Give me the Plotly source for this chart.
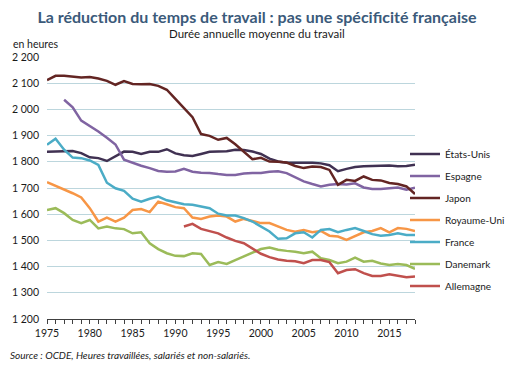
import plotly.graph_objects as go

years = list(range(1975, 2019))

etats_unis = [1838, 1840, 1840, 1841, 1833, 1817, 1814, 1803, 1822, 1839,
              1838, 1830, 1838, 1838, 1848, 1832, 1825, 1822, 1830, 1838,
              1839, 1840, 1846, 1845, 1839, 1830, 1812, 1801, 1796, 1797,
              1796, 1796, 1794, 1787, 1764, 1773, 1780, 1783, 1784, 1786,
              1786, 1783, 1784, 1789]
espagne_start = 1977
espagne = [2037, 2008, 1957, 1938, 1916, 1892, 1866, 1808,
           1795, 1785, 1776, 1765, 1762, 1763, 1773, 1762, 1758, 1757,
           1753, 1750, 1750, 1755, 1757, 1757, 1762, 1764, 1757, 1741,
           1725, 1715, 1706, 1712, 1715, 1713, 1718, 1702, 1696, 1696,
           1699, 1702, 1693, 1701]
japon = [2112, 2128, 2128, 2125, 2122, 2124, 2118, 2109, 2094, 2108,
         2097, 2096, 2097, 2090, 2075, 2040, 2005, 1970, 1906, 1899,
         1884, 1891, 1867, 1840, 1810, 1815, 1801, 1800, 1797, 1784,
         1776, 1782, 1780, 1769, 1712, 1731, 1727, 1744, 1731, 1729,
         1719, 1715, 1706, 1677]
royaume_uni = [1722, 1709, 1693, 1680, 1664, 1623, 1572, 1587, 1572, 1587,
               1616, 1620, 1608, 1648, 1638, 1627, 1623, 1587, 1582, 1591,
               1595, 1591, 1572, 1582, 1574, 1566, 1566, 1553, 1540, 1533,
               1540, 1531, 1536, 1518, 1515, 1502, 1518, 1531, 1536, 1547,
               1531, 1547, 1544, 1536]
france = [1865, 1888, 1846, 1816, 1814, 1805, 1788, 1720, 1699, 1689,
          1659, 1648, 1659, 1667, 1653, 1646, 1638, 1636, 1629, 1623,
          1602, 1595, 1595, 1585, 1572, 1553, 1534, 1506, 1508, 1527,
          1531, 1511, 1540, 1543, 1531, 1540, 1547, 1536, 1524, 1518,
          1521, 1527, 1521, 1521]
danemark = [1616, 1623, 1604, 1578, 1566, 1578, 1546, 1553, 1546, 1543,
            1527, 1531, 1489, 1467, 1451, 1441, 1440, 1451, 1448, 1406,
            1417, 1410, 1425, 1438, 1453, 1467, 1473, 1464, 1460, 1457,
            1451, 1457, 1432, 1425, 1413, 1419, 1434, 1419, 1422, 1412,
            1406, 1410, 1406, 1391]
allemagne_start = 1991
allemagne = [1553, 1563, 1544, 1536, 1527, 1511, 1498, 1489, 1470,
             1449, 1436, 1427, 1422, 1420,
             1413, 1425, 1425, 1417, 1375, 1387, 1390, 1375, 1364, 1364,
             1371, 1364, 1359, 1362]

series = [
    ("États-Unis", years, etats_unis, "#403152"),
    ("Espagne", list(range(espagne_start, 2019)), espagne, "#8064A2"),
    ("Japon", years, japon, "#632523"),
    ("Royaume-Uni", years, royaume_uni, "#F79646"),
    ("France", years, france, "#4BACC6"),
    ("Danemark", years, danemark, "#9BBB59"),
    ("Allemagne", list(range(allemagne_start, 2019)), allemagne, "#C0504D"),
]

y_ticks = [1200, 1300, 1400, 1500, 1600, 1700, 1800, 1900, 2000, 2100, 2200]
y_tick_text = ["1 200", "1 300", "1 400", "1 500", "1 600", "1 700",
               "1 800", "1 900", "2 000", "2 100", "2 200"]
x_ticks = [1975, 1980, 1985, 1990, 1995, 2000, 2005, 2010, 2015]

FONT = "Lato"
W, H = 514, 373
L, T = 47, 57
R, B = W - 415, H - 319
PW, PH = W - L - R, H - T - B


def px_x(px):
    return (px - L) / PW


def px_y(py):
    return (H - B - py) / PH


fig = go.Figure()
for i, (name, xs, ys, color) in enumerate(series):
    fig.add_trace(go.Scatter(
        x=xs, y=ys, name=name, mode="lines",
        line=dict(color=color, width=2.5),
        legendgroup=f"g{i}",
    ))

fig.update_layout(
    width=W, height=H,
    margin=dict(l=L, r=R, t=T, b=B, pad=0, autoexpand=False),
    paper_bgcolor="white", plot_bgcolor="white",
    font=dict(family=FONT, size=11, color="#1a1a1a"),
    title=dict(
        text="<b>La réduction du temps de travail : pas une spécificité française</b>",
        x=257 / W, xref="container", xanchor="center",
        y=1 - 17 / H, yref="container", yanchor="middle",
        font=dict(family=FONT, size=16, color="#3B5A7A"),
    ),
    showlegend=True,
    legend=dict(
        xref="container", yref="container",
        x=405 / W, xanchor="left", y=1 - 220 / H, yanchor="middle",
        font=dict(family=FONT, size=10, color="#1a1a1a"),
        tracegroupgap=3, bgcolor="rgba(0,0,0,0)",
    ),
    xaxis=dict(
        range=[1975, 2018], tickvals=x_ticks, ticktext=[str(v) for v in x_ticks],
        showgrid=False, zeroline=False,
        showline=True, linecolor="#404040", linewidth=1,
        ticks="outside", ticklen=4, tickcolor="#404040",
        minor=dict(dtick=1, tick0=1975, ticks="outside", ticklen=4, tickcolor="#404040"),
        tickfont=dict(size=10.5, color="#1a1a1a"),
    ),
    yaxis=dict(
        range=[1200, 2200], tickvals=y_ticks, ticktext=y_tick_text,
        showgrid=True, gridcolor="#BCD6DD", gridwidth=1,
        zeroline=False, showline=False, ticks="",
        ticklabelstandoff=7,
        tickfont=dict(size=10.5, color="#1a1a1a"),
    ),
)

fig.add_annotation(
    text="Durée annuelle moyenne du travail", xref="paper", yref="paper",
    x=px_x(257), y=px_y(33), xanchor="center", yanchor="middle",
    showarrow=False, font=dict(family=FONT, size=11.5, color="#1a1a1a"),
)
fig.add_annotation(
    text="en heures", xref="paper", yref="paper",
    x=px_x(11), y=px_y(44), xanchor="left", yanchor="middle",
    showarrow=False, font=dict(family=FONT, size=10.5, color="#1a1a1a"),
)
fig.add_annotation(
    text="<i>Source : OCDE, Heures travaillées, salariés et non-salariés.</i>",
    xref="paper", yref="paper",
    x=px_x(8), y=px_y(355), xanchor="left", yanchor="middle",
    showarrow=False, font=dict(family=FONT, size=10, color="#1a1a1a"),
)

fig.write_html(
    "out.html",
    config={"displayModeBar": False},
    post_script="document.body.style.margin='0';document.body.style.overflow='hidden';",
)
